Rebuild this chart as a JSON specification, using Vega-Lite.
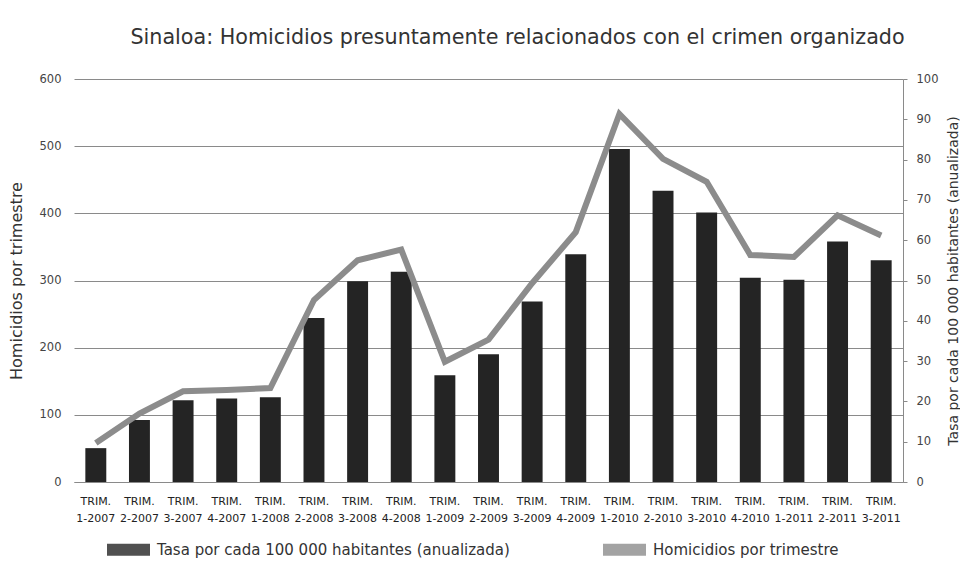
{
  "$schema": "https://vega.github.io/schema/vega-lite/v6.json",
  "width": 829,
  "height": 403,
  "autosize": {"type": "none"},
  "padding": {"left": 74, "top": 79, "right": 57, "bottom": 79},
  "background": "white",
  "title": {
    "text": "Sinaloa: Homicidios presuntamente relacionados con el crimen organizado",
    "fontSize": 20.7,
    "font": "DejaVu Sans",
    "fontWeight": "normal",
    "color": "#333333",
    "anchor": "middle",
    "dx": 29,
    "offset": 24
  },
  "config": {"font": "DejaVu Sans", "view": {"stroke": null}},
  "data": {
    "values": [
      {"trimestre": "TRIM. 1-2007", "tasa": 8.4, "homicidios": 58},
      {"trimestre": "TRIM. 2-2007", "tasa": 15.4, "homicidios": 102},
      {"trimestre": "TRIM. 3-2007", "tasa": 20.3, "homicidios": 135},
      {"trimestre": "TRIM. 4-2007", "tasa": 20.7, "homicidios": 137},
      {"trimestre": "TRIM. 1-2008", "tasa": 21.0, "homicidios": 140},
      {"trimestre": "TRIM. 2-2008", "tasa": 40.7, "homicidios": 271},
      {"trimestre": "TRIM. 3-2008", "tasa": 49.8, "homicidios": 330},
      {"trimestre": "TRIM. 4-2008", "tasa": 52.2, "homicidios": 346},
      {"trimestre": "TRIM. 1-2009", "tasa": 26.5, "homicidios": 179},
      {"trimestre": "TRIM. 2-2009", "tasa": 31.7, "homicidios": 212},
      {"trimestre": "TRIM. 3-2009", "tasa": 44.8, "homicidios": 296},
      {"trimestre": "TRIM. 4-2009", "tasa": 56.5, "homicidios": 372},
      {"trimestre": "TRIM. 1-2010", "tasa": 82.6, "homicidios": 548},
      {"trimestre": "TRIM. 2-2010", "tasa": 72.3, "homicidios": 481},
      {"trimestre": "TRIM. 3-2010", "tasa": 66.9, "homicidios": 447},
      {"trimestre": "TRIM. 4-2010", "tasa": 50.7, "homicidios": 338},
      {"trimestre": "TRIM. 1-2011", "tasa": 50.2, "homicidios": 335},
      {"trimestre": "TRIM. 2-2011", "tasa": 59.7, "homicidios": 397},
      {"trimestre": "TRIM. 3-2011", "tasa": 55.0, "homicidios": 367}
    ]
  },
  "encoding": {
    "x": {
      "field": "trimestre",
      "type": "nominal",
      "sort": null,
      "scale": {"paddingInner": 0.52, "paddingOuter": 0.26},
      "axis": {
        "title": null,
        "labelAngle": 0,
        "labelExpr": "split(datum.value, ' ')",
        "labelFontSize": 11,
        "labelColor": "#222222",
        "labelLineHeight": 17,
        "labelPadding": 13,
        "labelOverlap": false,
        "labelLimit": 0,
        "ticks": false,
        "domain": true,
        "domainColor": "#8a8a8a",
        "grid": false
      }
    }
  },
  "layer": [
    {
      "mark": {"type": "bar"},
      "encoding": {
        "y": {
          "field": "tasa",
          "type": "quantitative",
          "scale": {"domain": [0, 100]},
          "axis": {
            "orient": "right",
            "values": [0, 10, 20, 30, 40, 50, 60, 70, 80, 90, 100],
            "grid": false,
            "domain": true,
            "domainColor": "#8a8a8a",
            "ticks": true,
            "tickColor": "#8a8a8a",
            "tickSize": 4,
            "labelPadding": 9,
            "labelFontSize": 11.5,
            "labelColor": "#444444",
            "title": "Tasa por cada 100 000 habitantes (anualizada)",
            "titleFontSize": 14,
            "titleFontWeight": "normal",
            "titleColor": "#333333",
            "titleAngle": 270,
            "titlePadding": 23
          }
        },
        "color": {
          "datum": "Tasa por cada 100 000 habitantes (anualizada)",
          "type": "nominal",
          "scale": {
            "domain": ["Tasa por cada 100 000 habitantes (anualizada)", "Homicidios por trimestre"],
            "range": ["#242424", "#8c8c8c"]
          },
          "legend": {
            "title": null,
            "orient": "none",
            "legendX": 33,
            "legendY": 449,
            "direction": "horizontal",
            "labelFontSize": 15,
            "labelColor": "#333333",
            "symbolType": "M-1,-0.28H1V0.28H-1Z",
            "symbolSize": 1849,
            "symbolStrokeWidth": 0,
            "symbolOpacity": 0.8,
            "columnPadding": 93,
            "labelOffset": 7,
            "labelLimit": 0
          }
        }
      }
    },
    {
      "mark": {"type": "line", "strokeWidth": 6},
      "encoding": {
        "y": {
          "field": "homicidios",
          "type": "quantitative",
          "scale": {"domain": [0, 600]},
          "axis": {
            "orient": "left",
            "values": [0, 100, 200, 300, 400, 500, 600],
            "grid": true,
            "gridColor": "#8a8a8a",
            "gridWidth": 1,
            "domain": false,
            "ticks": false,
            "labelPadding": 13,
            "labelFontSize": 11.5,
            "labelColor": "#444444",
            "title": "Homicidios por trimestre",
            "titleFontSize": 16,
            "titleFontWeight": "normal",
            "titleColor": "#333333",
            "titlePadding": 15
          }
        },
        "color": {"datum": "Homicidios por trimestre", "type": "nominal"}
      }
    }
  ],
  "resolve": {"scale": {"y": "independent"}}
}
